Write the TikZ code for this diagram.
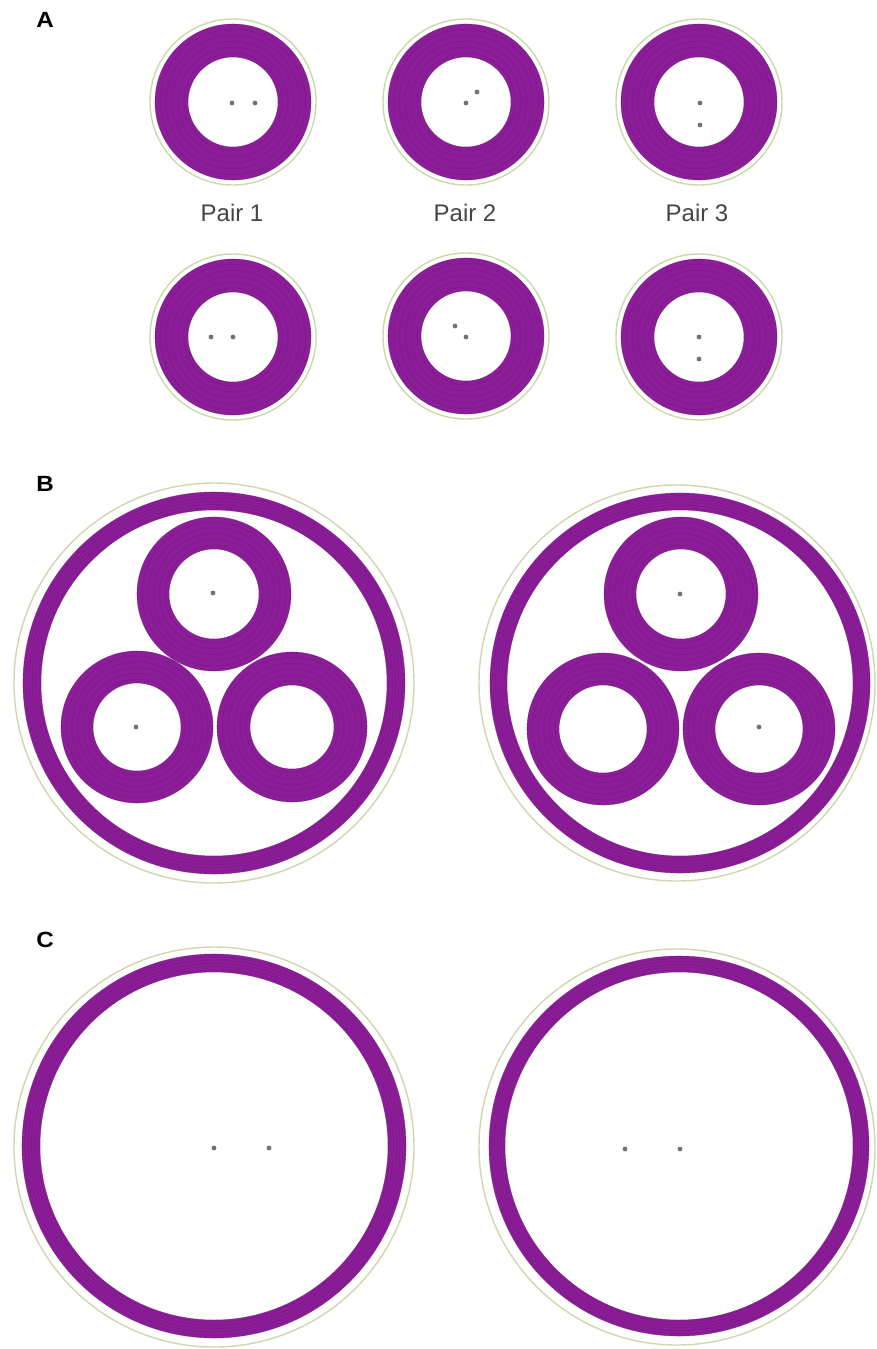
\documentclass[tikz,border=0pt]{standalone}
\usepackage{fontspec}
\setmainfont{Liberation Sans}
\definecolor{ringpurple}{HTML}{8C1D98}
\definecolor{ringdark}{HTML}{5E0F69}
\definecolor{rimgreen}{HTML}{CFD7AE}
\definecolor{dotgray}{HTML}{727272}
\definecolor{labelgray}{HTML}{454545}
\newcommand\myring[4]{%
  \fill[ringpurple, even odd rule] (#1,#2) circle (#4pt) (#1,#2) circle (#3pt);
  \foreach \f in {0.12,0.3,0.48,0.66,0.84}{%
    \pgfmathsetmacro\rr{#3+\f*(#4-#3)}%
    \draw[ringdark, opacity=0.35, line width=0.5pt] (#1,#2) circle (\rr pt);}%
  \draw[ringdark, opacity=0.5, line width=0.6pt] (#1,#2) circle (#4pt) (#1,#2) circle (#3pt);
}
\newcommand\myrim[3]{\draw[rimgreen, line width=1.4pt] (#1,#2) circle (#3pt);}
\newcommand\mydot[2]{\fill[dotgray] (#1,#2) circle (2.4pt);}
\tikzset{
  panellabel/.style={font=\fontsize{22}{26}\selectfont\bfseries, inner sep=0pt, text=black, xscale=1.1},
  pairlabel/.style={font=\fontsize{24}{28}\selectfont, inner sep=0pt, text=labelgray}
}
\begin{document}
\begin{tikzpicture}[x=1pt,y=-1pt]
\useasboundingbox (0,0) rectangle (876,1349);
\fill[white] (0,0) rectangle (876,1349);

% ---------- Panel A ----------
\node[panellabel] (labA) at (45,20) {A};
% row 1
\myrim{233}{102}{83} \myring{233}{102}{45}{78}
\mydot{232}{103} \mydot{255}{103}
\myrim{466}{102}{83} \myring{466}{102}{45}{78}
\mydot{466}{103} \mydot{477}{92}
\myrim{699}{102}{83} \myring{699}{102}{45}{78}
\mydot{700}{103} \mydot{700}{125}
% labels
\node[pairlabel] (p1) at (232,213) {Pair 1};
\node[pairlabel] (p2) at (465,213) {Pair 2};
\node[pairlabel] (p3) at (697,213) {Pair 3};
% row 2
\myrim{233}{337}{83} \myring{233}{337}{45}{78}
\mydot{211}{337} \mydot{233}{337}
\myrim{466}{336}{83} \myring{466}{336}{45}{78}
\mydot{455}{326} \mydot{466}{337}
\myrim{699}{337}{83} \myring{699}{337}{45}{78}
\mydot{699}{337} \mydot{699}{359}

% ---------- Panel B ----------
\node[panellabel] (labB) at (45,484) {B};
% left
\myrim{214}{683}{200}
\myring{214}{683}{173}{191}
\myring{214}{594}{45}{77}
\myring{137}{727}{44}{76}
\myring{292}{727}{42}{75}
\mydot{213}{593} \mydot{136}{727}
% right
\myrim{677}{683}{198}
\myring{680}{683}{173}{190}
\myring{681}{594}{45}{77}
\myring{603}{729}{44}{76}
\myring{759}{729}{44}{76}
\mydot{680}{594} \mydot{759}{727}

% ---------- Panel C ----------
\node[panellabel] (labC) at (45,940) {C};
\myrim{214}{1147}{200}
\myring{214}{1146}{174}{192}
\mydot{214}{1148} \mydot{269}{1148}
\myrim{677}{1147}{198}
\myring{679}{1146}{174}{190}
\mydot{625}{1149} \mydot{680}{1149}
\end{tikzpicture}
\end{document}
